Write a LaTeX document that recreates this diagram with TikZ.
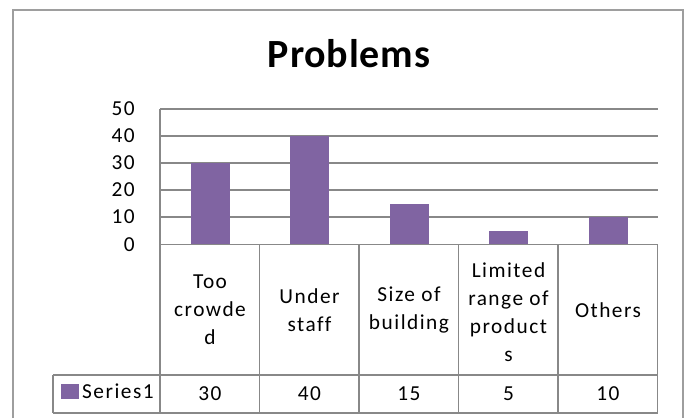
\documentclass[tikz,border=0pt]{standalone}
\usepackage{fontspec}
\setmainfont{Carlito}[LetterSpace=7,Ligatures=NoCommon]
\newfontfamily\titlefont{Carlito}[LetterSpace=2]
\usetikzlibrary{positioning}

\definecolor{barpurple}{RGB}{128,100,162}
\definecolor{gridgray}{RGB}{136,136,136}
\definecolor{framegray}{RGB}{158,158,158}

\tikzset{
	gridline/.style={draw=gridgray, line width=1pt},
	barfill/.style={fill=barpurple, draw=none},
	ticklabel/.style={anchor=east, inner sep=0.75pt, font=\fontsize{16}{18}\selectfont},
	catlabel/.style={align=center, inner sep=0.75pt, font=\fontsize{16}{21}\selectfont},
	vallabel/.style={inner sep=0.75pt, font=\fontsize{16}{18}\selectfont},
}

\begin{document}
\begin{tikzpicture}[x=0.75pt,y=0.75pt,yscale=-1,xscale=1]
		\useasboundingbox (0,0) rectangle (688,418);

		%Shape: Chart frame
		\draw [framegray, line width=1.1pt] (13,418) -- (13,10) -- (683,10) -- (683,418) ;

		%Straight Lines: value grid
		\draw [gridline] (160,109) -- (657.5,109) ;
		\draw [gridline] (160,136) -- (657.5,136) ;
		\draw [gridline] (160,163) -- (657.5,163) ;
		\draw [gridline] (160,190) -- (657.5,190) ;
		\draw [gridline] (160,217) -- (657.5,217) ;

		%Shape: Rectangle [bars]
		\fill [barfill] (190.5,163) rectangle (229.5,244.3) ;
		\fill [barfill] (290,136) rectangle (329,244.3) ;
		\fill [barfill] (389.5,203.7) rectangle (428.5,244.3) ;
		\fill [barfill] (489,230.8) rectangle (528,244.3) ;
		\fill [barfill] (588.5,217.2) rectangle (627.5,244.3) ;

		%Straight Lines: axis and data table
		\draw [gridline] (160,244.3) -- (657.5,244.3) ;
		\draw [gridline] (53,375) -- (657.5,375) ;
		\draw [gridline] (53,413) -- (657.5,413) ;
		\draw [gridline] (53,375) -- (53,413) ;
		\draw [gridline] (160,109) -- (160,413) ;
		\draw [gridline] (259.5,244.3) -- (259.5,413) ;
		\draw [gridline] (359,244.3) -- (359,413) ;
		\draw [gridline] (458.5,244.3) -- (458.5,413) ;
		\draw [gridline] (558,244.3) -- (558,413) ;
		\draw [gridline] (657.5,244.3) -- (657.5,413) ;

		% Text Node
		\node (title) [anchor=base, inner sep=0pt, font=\titlefont\bfseries\fontsize{30}{36}\selectfont] at (349,67) {Problems};

		% Text Node
		\node (tick50) [ticklabel] at (136,109) {50};
		% Text Node
		\node (tick40) [ticklabel] at (136,136) {40};
		% Text Node
		\node (tick30) [ticklabel] at (136,163) {30};
		% Text Node
		\node (tick20) [ticklabel] at (136,190) {20};
		% Text Node
		\node (tick10) [ticklabel] at (136,217) {10};
		% Text Node
		\node (tick0) [ticklabel] at (136,244.3) {0};

		% Text Node
		\node (catCrowded) [catlabel] at (210,310) {Too\\crowde\\d};
		% Text Node
		\node (catStaff) [catlabel] at (309.5,310) {Under\\staff};
		% Text Node
		\node (catSize) [catlabel] at (409,310) {Size of\\building};
		% Text Node
		\node (catRange) [catlabel] at (508.5,312) {Limited\\range of\\product\\s};
		% Text Node
		\node (catOthers) [catlabel] at (608,310) {Others};

		% Text Node
		\node (serkey) [fill=barpurple, inner sep=0pt, minimum width=14, minimum height=11.5] at (70,391.5) {};
		\node (sername) [vallabel, right=1pt of serkey] {Series1};

		% Text Node
		\node (valCrowded) [vallabel] at (210,394) {30};
		% Text Node
		\node (valStaff) [vallabel] at (309.5,394) {40};
		% Text Node
		\node (valSize) [vallabel] at (409,394) {15};
		% Text Node
		\node (valRange) [vallabel] at (508.5,394) {5};
		% Text Node
		\node (valOthers) [vallabel] at (608,394) {10};

\end{tikzpicture}
\end{document}
